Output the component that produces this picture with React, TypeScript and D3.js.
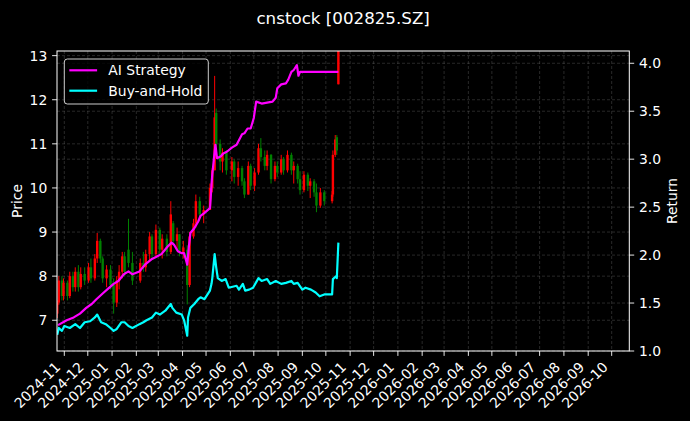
import React from "react";
import * as d3 from "d3";

// ---------- DATA ----------
const title = "cnstock [002825.SZ]";
const seriesNames = ["AI Strategy", "Buy-and-Hold"];

const xTickLabels = [
  "2024-11", "2024-12", "2025-01", "2025-02", "2025-03", "2025-04", "2025-05", "2025-06",
  "2025-07", "2025-08", "2025-09", "2025-10", "2025-11", "2025-12", "2026-01", "2026-02",
  "2026-03", "2026-04", "2026-05", "2026-06", "2026-07", "2026-08", "2026-09", "2026-10",
];
const priceTicks = [7, 8, 9, 10, 11, 12, 13];
const returnTicks = [1.0, 1.5, 2.0, 2.5, 3.0, 3.5, 4.0];

const candleDates = [
  "2024-10-23", "2024-10-25", "2024-10-29", "2024-10-31", "2024-11-05", "2024-11-08", "2024-11-12",
  "2024-11-15", "2024-11-19", "2024-11-22", "2024-11-27", "2024-12-02", "2024-12-05", "2024-12-10",
  "2024-12-13", "2024-12-17", "2024-12-20", "2024-12-25", "2024-12-30", "2025-01-03", "2025-01-07",
  "2025-01-10", "2025-01-14", "2025-01-17", "2025-01-22", "2025-01-27", "2025-02-06", "2025-02-10",
  "2025-02-13", "2025-02-18", "2025-02-21", "2025-02-26", "2025-03-03", "2025-03-06", "2025-03-12",
  "2025-03-17", "2025-03-20", "2025-03-25", "2025-03-28", "2025-04-02", "2025-04-07", "2025-04-10",
  "2025-04-15", "2025-04-18", "2025-04-23", "2025-04-28", "2025-05-06", "2025-05-09", "2025-05-12",
  "2025-05-14", "2025-05-19", "2025-05-22", "2025-05-27", "2025-06-03", "2025-06-06", "2025-06-11",
  "2025-06-16", "2025-06-19", "2025-06-24", "2025-06-27", "2025-07-02", "2025-07-07", "2025-07-10",
  "2025-07-15", "2025-07-18", "2025-07-23", "2025-07-28", "2025-07-31", "2025-08-05", "2025-08-08",
  "2025-08-13", "2025-08-18", "2025-08-21", "2025-08-26", "2025-08-29", "2025-09-03", "2025-09-08",
  "2025-09-11", "2025-09-16", "2025-09-19", "2025-09-24", "2025-09-29", "2025-10-09", "2025-10-10",
  "2025-10-13", "2025-10-15", "2025-10-17",
];
const candleOpen = [
  7.15, 7.4, 7.9, 7.55, 7.85, 7.55, 8.0, 7.75, 8.1, 7.75, 8.05, 7.9, 8.2, 7.95,
  8.4, 8.8, 8.4, 7.95, 8.15, 7.8, 7.4, 7.9, 8.1, 8.45, 8.6, 8.3, 7.9, 8.3,
  8.2, 8.5, 8.9, 8.5, 9.05, 8.6, 8.85, 8.55, 9.2, 8.8, 8.95, 8.55, 8.6, 7.8,
  8.9, 9.2, 9.7, 9.4, 9.5, 10.0, 10.4, 11.7, 11.0, 10.6, 10.8, 10.4, 10.6, 10.25,
  10.45, 10.15, 9.85, 10.5, 10.05, 10.35, 10.9, 10.7, 10.5, 10.75, 10.2, 10.5, 10.35, 10.65,
  10.4, 10.75, 10.4, 10.5, 10.2, 9.95, 10.3, 10.05, 10.15, 9.9, 9.6, 9.9, 9.7, 9.85,
  10.75, 11.15, 12.35,
];
const candleHigh = [
  7.45, 8.0, 8.0, 7.95, 7.9, 8.1, 8.1, 8.2, 8.25, 8.2, 8.2, 8.3, 8.4, 8.5,
  8.98, 8.85, 8.45, 8.25, 8.25, 7.95, 8.0, 8.25, 8.55, 8.55, 9.3, 8.55, 8.4, 8.55,
  8.6, 9.0, 8.95, 9.17, 9.1, 8.95, 8.95, 9.7, 9.25, 9.1, 8.95, 8.8, 8.7, 9.0,
  9.3, 9.85, 9.8, 9.6, 10.1, 10.45, 12.54, 11.8, 11.1, 10.9, 10.85, 10.7, 10.65, 10.6,
  10.5, 10.22, 10.6, 10.55, 10.45, 11.0, 11.13, 10.85, 10.85, 10.77, 10.6, 10.6, 10.75, 10.7,
  10.85, 10.8, 10.6, 10.55, 10.38, 10.38, 10.35, 10.22, 10.2, 10.1, 10.0, 9.95, 9.93, 10.85,
  11.2, 11.2, 13.5,
];
const candleLow = [
  7.05, 7.35, 7.45, 7.45, 7.45, 7.5, 7.65, 7.65, 7.65, 7.7, 7.8, 7.85, 7.85, 7.9,
  8.3, 8.3, 7.85, 7.75, 7.7, 7.15, 7.3, 7.7, 7.95, 8.0, 8.2, 7.8, 7.85, 8.1,
  8.1, 8.35, 8.4, 8.45, 8.5, 8.4, 8.45, 8.5, 8.7, 8.6, 8.45, 8.4, 7.36, 7.75,
  8.85, 9.1, 9.3, 9.2, 9.5, 9.9, 10.4, 10.84, 10.4, 10.35, 10.3, 10.15, 10.1, 10.05,
  10.05, 9.77, 9.85, 9.95, 9.93, 10.3, 10.6, 10.4, 10.4, 10.1, 10.15, 10.25, 10.3, 10.3,
  10.35, 10.3, 10.1, 10.1, 9.85, 9.9, 9.93, 9.77, 9.8, 9.45, 9.55, 9.6, 9.65, 9.8,
  10.7, 10.75, 12.35,
];
const candleClose = [
  7.4, 7.9, 7.55, 7.85, 7.55, 8.0, 7.75, 8.1, 7.75, 8.05, 7.9, 8.2, 7.95, 8.4,
  8.8, 8.4, 7.95, 8.15, 7.8, 7.4, 7.9, 8.1, 8.45, 8.1, 8.3, 7.9, 8.3, 8.2,
  8.5, 8.9, 8.5, 9.05, 8.6, 8.85, 8.55, 9.4, 8.8, 8.95, 8.55, 8.65, 7.8, 8.9,
  9.2, 9.7, 9.4, 9.5, 10.0, 10.4, 11.6, 11.0, 10.6, 10.8, 10.4, 10.6, 10.25, 10.45,
  10.15, 9.85, 10.5, 10.05, 10.35, 10.9, 10.7, 10.5, 10.75, 10.2, 10.5, 10.35, 10.65, 10.4,
  10.75, 10.4, 10.5, 10.2, 9.95, 10.3, 10.05, 10.15, 9.9, 9.6, 9.9, 9.7, 9.85, 10.75,
  11.1, 10.85, 13.4,
];

const strategyDates = [
  "2024-10-24", "2024-11-04", "2024-11-13", "2024-11-21", "2024-11-29", "2024-12-06", "2024-12-12",
  "2024-12-20", "2024-12-27", "2025-01-03", "2025-01-09", "2025-01-16", "2025-01-22", "2025-01-27",
  "2025-02-05", "2025-02-12", "2025-02-21", "2025-02-26", "2025-03-05", "2025-03-13", "2025-03-18",
  "2025-03-21", "2025-03-26", "2025-03-31", "2025-04-03", "2025-04-07", "2025-04-09", "2025-04-11",
  "2025-04-16", "2025-04-21", "2025-04-24", "2025-04-29", "2025-05-06", "2025-05-07", "2025-05-08",
  "2025-05-09", "2025-05-12", "2025-05-13", "2025-05-15", "2025-05-20", "2025-05-23", "2025-05-28",
  "2025-06-03", "2025-06-09", "2025-06-16", "2025-06-19", "2025-06-23", "2025-06-27", "2025-07-01",
  "2025-07-04", "2025-07-11", "2025-07-18", "2025-07-25", "2025-07-29", "2025-07-31", "2025-08-05",
  "2025-08-11", "2025-08-14", "2025-08-18", "2025-08-21", "2025-08-25", "2025-08-27", "2025-08-29",
  "2025-10-17",
];
const strategyValues = [
  1.27, 1.32, 1.35, 1.39, 1.45, 1.49, 1.54, 1.6, 1.65, 1.7, 1.73, 1.8, 1.83, 1.8,
  1.83, 1.9, 1.96, 1.98, 2.01, 2.09, 2.13, 2.11, 2.04, 2.02, 2.02, 1.9, 2.08, 2.23,
  2.28, 2.35, 2.41, 2.44, 2.49, 2.6, 2.74, 2.84, 3.08, 3.15, 3.01, 3.03, 3.06, 3.08,
  3.12, 3.15, 3.26, 3.27, 3.32, 3.32, 3.43, 3.6, 3.58, 3.59, 3.6, 3.64, 3.74, 3.78,
  3.79, 3.83, 3.91, 3.93, 3.98, 3.87, 3.91, 3.91,
];

const holdDates = [
  "2024-10-23", "2024-10-25", "2024-10-29", "2024-11-01", "2024-11-08", "2024-11-15", "2024-11-21",
  "2024-11-27", "2024-12-04", "2024-12-10", "2024-12-13", "2024-12-18", "2024-12-24", "2024-12-30",
  "2025-01-03", "2025-01-07", "2025-01-13", "2025-01-17", "2025-01-22", "2025-01-27", "2025-02-05",
  "2025-02-10", "2025-02-14", "2025-02-21", "2025-02-26", "2025-03-03", "2025-03-10", "2025-03-17",
  "2025-03-19", "2025-03-24", "2025-03-31", "2025-04-03", "2025-04-07", "2025-04-08", "2025-04-11",
  "2025-04-16", "2025-04-21", "2025-04-24", "2025-04-29", "2025-05-06", "2025-05-08", "2025-05-09",
  "2025-05-12", "2025-05-14", "2025-05-16", "2025-05-21", "2025-05-26", "2025-05-30", "2025-06-04",
  "2025-06-09", "2025-06-12", "2025-06-17", "2025-06-20", "2025-06-25", "2025-06-30", "2025-07-07",
  "2025-07-11", "2025-07-18", "2025-07-22", "2025-07-29", "2025-08-05", "2025-08-11", "2025-08-18",
  "2025-08-21", "2025-08-26", "2025-09-01", "2025-09-05", "2025-09-12", "2025-09-18", "2025-09-23",
  "2025-09-29", "2025-10-09", "2025-10-10", "2025-10-14", "2025-10-15", "2025-10-17",
];
const holdValues = [
  1.17, 1.24, 1.21, 1.26, 1.24, 1.28, 1.24, 1.3, 1.31, 1.35, 1.38, 1.3, 1.28, 1.24,
  1.21, 1.23, 1.3, 1.3, 1.26, 1.24, 1.28, 1.3, 1.32, 1.35, 1.4, 1.38, 1.42, 1.49,
  1.45, 1.4, 1.38, 1.32, 1.16, 1.35, 1.45, 1.49, 1.54, 1.56, 1.54, 1.63, 1.7, 1.76,
  2.01, 1.87, 1.76, 1.73, 1.75, 1.66, 1.67, 1.68, 1.64, 1.7, 1.63, 1.64, 1.66, 1.76,
  1.73, 1.75, 1.7, 1.73, 1.7, 1.71, 1.73, 1.7, 1.71, 1.64, 1.66, 1.64, 1.61, 1.57,
  1.59, 1.59, 1.75, 1.78, 1.76, 2.13,
];

// ---------- LAYOUT ----------
const W = 690;
const H = 421;
const L = 57;
const R = 629.3;
const T = 51;
const B = 351;
const FONT = "DejaVu Sans, Liberation Sans, sans-serif";

const parse = d3.timeParse("%Y-%m-%d");
const parseMonth = d3.timeParse("%Y-%m");

export default function App() {
  const x = d3
    .scaleTime()
    .domain([new Date(2024, 9, 22, 16, 20), new Date(2026, 9, 23, 12, 0)])
    .range([L, R]);
  const yP = d3.scaleLinear().domain([6.303, 13.105]).range([B, T]);
  const yR = d3.scaleLinear().domain([1.0, 4.128]).range([B, T]);

  const candles = candleDates.map((d, i) => ({
    date: parse(d) as Date,
    o: candleOpen[i],
    h: candleHigh[i],
    l: candleLow[i],
    c: candleClose[i],
  }));
  const strat = strategyDates.map((d, i) => ({ date: parse(d) as Date, v: strategyValues[i] }));
  const hold = holdDates.map((d, i) => ({ date: parse(d) as Date, v: holdValues[i] }));

  const line = d3
    .line<{ date: Date; v: number }>()
    .x((d) => x(d.date))
    .y((d) => yR(d.v));

  const monthTicks = xTickLabels.map((s) => ({ label: s, date: parseMonth(s) as Date }));
  const gridStyle = { stroke: "#7a7a7a", strokeOpacity: 0.55, strokeWidth: 0.6, strokeDasharray: "3,2" };
  const bodyW = 2.4;

  return (
    <svg
      width={W}
      height={H}
      style={{ position: "fixed", left: 0, top: 0, background: "#000" }}
      fontFamily={FONT}
    >
      <rect x={0} y={0} width={W} height={H} fill="#000" />
      <defs>
        <clipPath id="plotClip">
          <rect x={L} y={T} width={R - L} height={B - T} />
        </clipPath>
      </defs>

      {/* grid */}
      <g>
        {monthTicks.map((t) => (
          <line key={"gx" + t.label} x1={x(t.date)} x2={x(t.date)} y1={T} y2={B} {...gridStyle} />
        ))}
        {priceTicks.map((p) => (
          <line key={"gp" + p} x1={L} x2={R} y1={yP(p)} y2={yP(p)} {...gridStyle} />
        ))}
        {returnTicks.map((r) => (
          <line key={"gr" + r} x1={L} x2={R} y1={yR(r)} y2={yR(r)} {...gridStyle} />
        ))}
      </g>

      {/* candles */}
      <g clipPath="url(#plotClip)">
        {candles.map((c, i) => {
          const col = c.c >= c.o ? "#ff0000" : "#008000";
          const cx = x(c.date);
          const top = yP(Math.max(c.o, c.c));
          const bot = yP(Math.min(c.o, c.c));
          return (
            <g key={"c" + i}>
              <line x1={cx} x2={cx} y1={yP(c.h)} y2={yP(c.l)} stroke={col} strokeWidth={1} />
              <rect x={cx - bodyW / 2} y={top} width={bodyW} height={Math.max(1, bot - top)} fill={col} />
            </g>
          );
        })}
      </g>

      {/* return lines */}
      <g clipPath="url(#plotClip)" fill="none" strokeWidth={2.2} strokeLinejoin="round">
        <path d={line(strat) || ""} stroke="#ff00ff" />
        <path d={line(hold) || ""} stroke="#00ffff" />
      </g>

      {/* spines */}
      <rect x={L} y={T} width={R - L} height={B - T} fill="none" stroke="#fff" strokeWidth={1} />

      {/* left axis */}
      {priceTicks.map((p) => (
        <g key={"lp" + p}>
          <line x1={L - 4.9} x2={L} y1={yP(p)} y2={yP(p)} stroke="#fff" strokeWidth={0.9} />
          <text x={L - 9.7} y={yP(p)} dy="0.36em" textAnchor="end" fill="#fff" fontSize={13.9}>
            {p}
          </text>
        </g>
      ))}
      {/* right axis */}
      {returnTicks.map((r) => (
        <g key={"rr" + r}>
          <line x1={R} x2={R + 4.9} y1={yR(r)} y2={yR(r)} stroke="#fff" strokeWidth={0.9} />
          <text x={R + 9.7} y={yR(r)} dy="0.36em" textAnchor="start" fill="#fff" fontSize={13.9}>
            {r.toFixed(1)}
          </text>
        </g>
      ))}
      {/* bottom axis */}
      {monthTicks.map((t) => {
        const tx = x(t.date);
        const ax = tx - 3;
        const ay = 368;
        return (
          <g key={"bx" + t.label}>
            <line x1={tx} x2={tx} y1={B} y2={B + 4.9} stroke="#fff" strokeWidth={0.9} />
            <text
              x={ax}
              y={ay}
              textAnchor="end"
              fill="#fff"
              fontSize={13.9}
              transform={`rotate(-45 ${ax} ${ay})`}
            >
              {t.label}
            </text>
          </g>
        );
      })}

      {/* axis labels */}
      <text
        x={17}
        y={(T + B) / 2}
        fill="#fff"
        fontSize={13.9}
        textAnchor="middle"
        dy="0.36em"
        transform={`rotate(-90 17 ${(T + B) / 2})`}
      >
        Price
      </text>
      <text
        x={672}
        y={(T + B) / 2}
        fill="#fff"
        fontSize={13.9}
        textAnchor="middle"
        dy="0.36em"
        transform={`rotate(-90 672 ${(T + B) / 2})`}
      >
        Return
      </text>

      {/* title */}
      <text x={(L + R) / 2} y={24} fill="#fff" fontSize={16.7} textAnchor="middle">
        {title}
      </text>

      {/* legend */}
      <g>
        <rect x={64.3} y={59} width={144} height={45} rx={3} fill="#000" fillOpacity={0.8} stroke="#cccccc" strokeWidth={1} />
        <line x1={69.3} x2={97.1} y1={70.3} y2={70.3} stroke="#ff00ff" strokeWidth={2.2} />
        <line x1={69.3} x2={97.1} y1={90.7} y2={90.7} stroke="#00ffff" strokeWidth={2.2} />
        <text x={108.3} y={70.3} dy="0.36em" fill="#fff" fontSize={13.9}>
          {seriesNames[0]}
        </text>
        <text x={108.3} y={90.7} dy="0.36em" fill="#fff" fontSize={13.9}>
          {seriesNames[1]}
        </text>
      </g>
    </svg>
  );
}
